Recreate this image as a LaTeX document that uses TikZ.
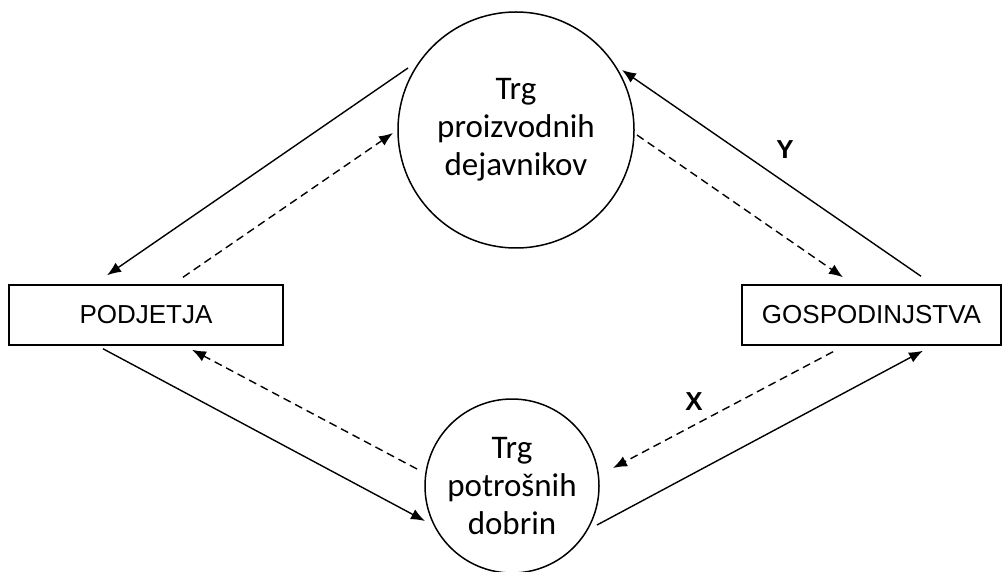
\documentclass[tikz,border=0pt]{standalone}
\usepackage{fontspec}
\setmainfont{Liberation Sans}
\newfontfamily\calfont{Carlito}
\usetikzlibrary{calc, arrows.meta}

\begin{document}
\begin{tikzpicture}
  [x=1pt, y=1pt,
   market/.style = {circle, draw=black, line width=1.5pt, inner sep=0pt,
     align=center, font=\calfont\fontsize{33}{38}\selectfont},
   sector/.style = {rectangle, draw=black, line width=1.5pt, inner sep=0pt,
     minimum height=60pt, font=\fontsize{26}{30}\selectfont},
   flow/.style = {line width=1.4pt, -{Latex[length=14pt, width=11pt]}},
   money/.style = {flow, dash pattern=on 8pt off 5pt},
   lbl/.style = {font=\bfseries\fontsize{26}{30}\selectfont}
  ]
  \useasboundingbox (0,0) rectangle (1004,571);
  \node[market, minimum size=236pt] (tm) at (516,441) {Trg\\proizvodnih\\dejavnikov};
  \node[market, minimum size=174pt] (bm) at (512,85) {Trg\\potrošnih\\dobrin};
  \node[sector, minimum width=274pt] (pod) at (146,256) {PODJETJA};
  \node[sector, minimum width=259pt] (gos) at (871.5,256) {GOSPODINJSTVA};

  % upper half
  \draw[flow] ($(tm) + (-108,62)$) -- ($(pod.north) + (-39,9)$);
  \draw[money] ($(pod.north) + (37,7)$) -- ($(tm) + (-123,-3)$);
  \draw[flow] ($(gos.north) + (49.5,8)$) -- ($(tm) + (106,60)$);
  \draw[money] ($(tm) + (121,-5)$) -- ($(gos.north) + (-28.5,7)$);
  % lower half
  \draw[flow] ($(pod.south) + (-43,-3)$) -- ($(bm) + (-87,-35)$);
  \draw[money] ($(bm) + (-95,17)$) -- ($(pod.south) + (46,-4)$);
  \draw[flow] ($(bm) + (85,-39)$) -- ($(gos.south) + (51.5,-5)$);
  \draw[money] ($(gos.south) + (-38.5,-6)$) -- ($(bm) + (101,18)$);

  \node[lbl] (y) at (785,421) {Y};
  \node[lbl] (x) at (694,169) {X};
\end{tikzpicture}
\end{document}
